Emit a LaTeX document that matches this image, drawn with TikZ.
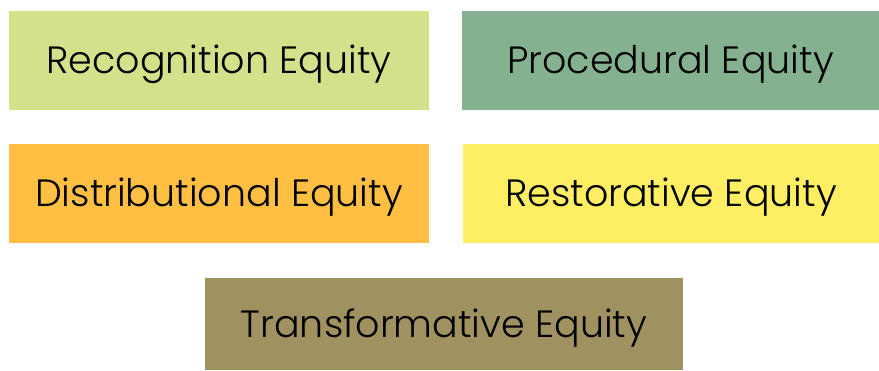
\documentclass[tikz,border=0pt]{standalone}
\usepackage{fontspec}
\setmainfont{Poppins}[UprightFont=* Light]
\definecolor{cRec}{HTML}{D3E28A}
\definecolor{cPro}{HTML}{84B190}
\definecolor{cDis}{HTML}{FEBF42}
\definecolor{cRes}{HTML}{FEEE63}
\definecolor{cTra}{HTML}{A09260}
\begin{document}
\begin{tikzpicture}[x=1pt,y=-1pt,
  eqbox/.style={inner sep=0pt, outer sep=0pt, text=black, font=\fontsize{38}{40}\selectfont, align=center, text depth=2pt}]
\useasboundingbox (0,0) rectangle (879,370);
\node[eqbox, fill=cRec, minimum width=420pt, minimum height=99pt] (rec) at (219,60.5) {Recognition Equity};
\node[eqbox, fill=cPro, minimum width=417pt, minimum height=99pt] (pro) at (670.5,60.5) {Procedural Equity};
\node[eqbox, fill=cDis, minimum width=420pt, minimum height=99pt] (dis) at (219,193.5) {Distributional Equity};
\node[eqbox, fill=cRes, minimum width=416pt, minimum height=99pt] (res) at (671,193.5) {Restorative Equity};
\node[eqbox, fill=cTra, minimum width=478pt, minimum height=92pt] (tra) at (444,324) {Transformative Equity};
\end{tikzpicture}
\end{document}
